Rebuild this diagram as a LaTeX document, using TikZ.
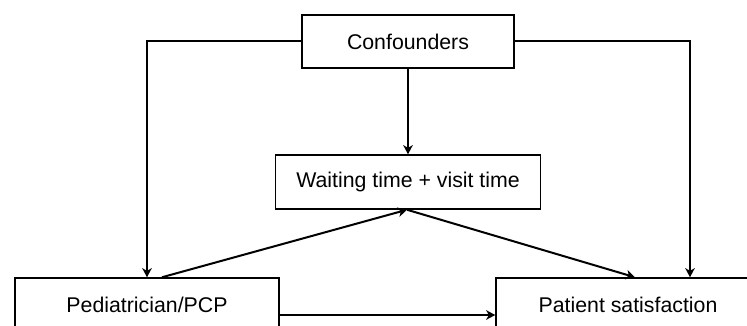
\documentclass[tikz,border=0pt]{standalone}
\usepackage{fontspec}
\setmainfont{Liberation Sans}
\usetikzlibrary{positioning, arrows.meta}

\begin{document}
\begin{tikzpicture}
    [
        x=1pt, y=1pt, node distance=140.5pt and 261pt, on grid,
        box_node/.style={rectangle, draw=black, fill=white, line width=1.5pt, inner sep=0pt, font=\fontsize{21.3}{25}\selectfont},
        arrow_line/.style={-{Stealth[length=9pt, width=9.5pt, inset=2.5pt]}, line width=2pt, color=black},
    ]
        \useasboundingbox (0,0) rectangle (747,-326) ;
        \node[box_node, minimum width=212pt, minimum height=53pt] (conf) at (408,-41.5) {Confounders} ;
        \node[box_node, minimum width=265pt, minimum height=54pt] (wait) [below = of conf] {Waiting time + visit time} ;
        \node[box_node, minimum width=264pt, minimum height=53pt] (ped) [below left = 122.5pt and 261pt of wait] {Pediatrician/PCP} ;
        \node[box_node, minimum width=264pt, minimum height=53pt] (pat) [right = 481pt of ped] {Patient satisfaction} ;
        \draw[arrow_line] (conf.west) -| (ped.north) ;
        \draw[arrow_line] (conf.east) -| ([xshift=62pt]pat.north) ;
        \draw[arrow_line] (conf.south) -- (conf.south |- wait.north) ;
        \draw[arrow_line] ([xshift=15pt]ped.north) -- ([xshift=-1pt]wait.south) ;
        \draw[arrow_line] ([xshift=-1pt]wait.south) -- ([xshift=7pt]pat.north) ;
        \draw[arrow_line] ([yshift=-10.5pt]ped.east) -- ([yshift=-10.5pt]pat.west) ;
    \end{tikzpicture}
\end{document}
